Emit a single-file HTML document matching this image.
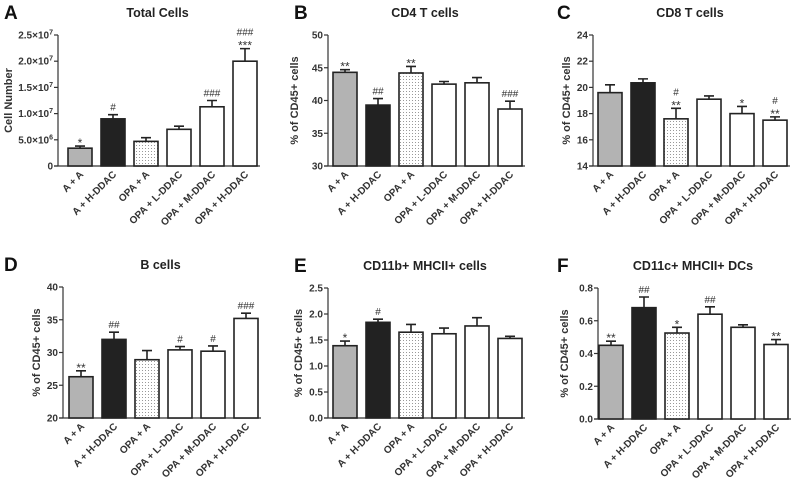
<!DOCTYPE html>
<html><head><meta charset="utf-8"><style>
html,body{margin:0;padding:0;background:#fff;}
svg{display:block;font-family:"Liberation Sans",Arial,sans-serif;}
</style></head><body>
<svg id="fig" width="794" height="485" viewBox="0 0 794 485">
<defs><pattern id="dots" width="3" height="3" patternUnits="userSpaceOnUse"><rect width="3" height="3" fill="#fff"/><rect x="1" y="1" width="1" height="1" fill="#999"/></pattern></defs>
</svg>
<script>
const categories = ["A + A","A + H-DDAC","OPA + A","OPA + L-DDAC","OPA + M-DDAC","OPA + H-DDAC"];
const valuesA = [3.4e6,9.0e6,4.7e6,7.0e6,11.3e6,20.0e6];
const errorsA = [0.4e6,0.8e6,0.7e6,0.6e6,1.2e6,2.4e6];
const annotA = ["*","#","","","###","###|***"];
const ticksA = [0,5e6,1e7,1.5e7,2e7,2.5e7];
const tickLabelsA = ["0","5.0×10^6","1.0×10^7","1.5×10^7","2.0×10^7","2.5×10^7"];
const valuesB = [44.3,39.3,44.2,42.5,42.7,38.7];
const errorsB = [0.4,1.0,1.0,0.4,0.8,1.2];
const annotB = ["**","##","**","","","###"];
const ticksB = [30,35,40,45,50];
const valuesC = [19.6,20.35,17.6,19.1,18.0,17.5];
const errorsC = [0.6,0.3,0.8,0.25,0.55,0.25];
const annotC = ["","","#|**","","*","#|**"];
const ticksC = [14,16,18,20,22,24];
const valuesD = [26.3,32.0,28.9,30.4,30.2,35.2];
const errorsD = [0.9,1.1,1.4,0.5,0.8,0.8];
const annotD = ["**","##","","#","#","###"];
const ticksD = [20,25,30,35,40];
const valuesE = [1.39,1.84,1.65,1.62,1.77,1.53];
const errorsE = [0.09,0.06,0.15,0.11,0.16,0.04];
const annotE = ["*","#","","","",""];
const ticksE = [0,0.5,1,1.5,2,2.5];
const tickLabelsE = ["0.0","0.5","1.0","1.5","2.0","2.5"];
const valuesF = [0.45,0.68,0.525,0.64,0.56,0.455];
const errorsF = [0.025,0.065,0.035,0.045,0.015,0.03];
const annotF = ["**","##","*","##","","**"];
const ticksF = [0,0.2,0.4,0.6,0.8];
const tickLabelsF = ["0.0","0.2","0.4","0.6","0.8"];

const NS="http://www.w3.org/2000/svg";
const svg=document.getElementById('fig');
const fills=["#b3b3b3","#222","url(#dots)","#fff","#fff","#fff"];
function mk(tag,attrs,parent){const e=document.createElementNS(NS,tag);for(const k in attrs)e.setAttribute(k,attrs[k]);(parent||svg).appendChild(e);return e;}

function panel(p){
  const g=mk('g',{});
  
  
  const min=p.ticks[0],max=p.ticks[p.ticks.length-1];
  const y=v=>p.bottom-(v-min)/(max-min)*(p.bottom-p.top);
  const step=33,bw=24;
  const xc=i=>p.bar0+bw/2+i*step;
  const L=mk('text',{x:p.lx,y:p.top-16,'font-size':19,'font-weight':'bold',fill:'#111'},g);L.textContent=p.id;
  
  
  const t=mk('text',{x:(p.axis+xc(5)+bw/2)/2,y:p.top-18,'font-size':12.5,'font-weight':'bold','text-anchor':'middle',fill:'#222'},g);t.textContent=p.title;
  
  
  const yt=mk('text',{x:0,y:0,'font-size':11,'font-weight':'bold','text-anchor':'middle',fill:'#333',transform:`translate(${p.ytx},${(p.top+p.bottom)/2}) rotate(-90)`},g);yt.textContent=p.ylabel;
  
  
  // axes
  const ya=mk('line',{x1:p.axis,x2:p.axis,y1:p.top,y2:p.bottom,stroke:'#333','stroke-width':1.2},g);
  
  
  const xa=mk('line',{x1:p.axis-4,x2:xc(5)+bw/2+3,y1:p.bottom,y2:p.bottom,stroke:'#333','stroke-width':1.2},g);
  
  
  p.ticks.forEach((v,i)=>{
    mk('line',{x1:p.axis-4,x2:p.axis,y1:y(v),y2:y(v),stroke:'#333','stroke-width':1.2},g);
    const lab=(p.labels?p.labels[i]:String(v));
    const tx=mk('text',{x:p.axis-5,y:y(v)+3.5,'font-size':10,'font-weight':'bold','text-anchor':'end',fill:'#333'},g);
    
    
    const parts=lab.split('^');
    tx.textContent=parts[0];
    if(parts[1]){const s=mk('tspan',{dy:-4,'font-size':7},tx);s.textContent=parts[1];}
  });
  p.values.forEach((v,i)=>{
    const x0=xc(i)-bw/2, top=y(v), et=y(v+p.errors[i]);
    const r=mk('rect',{x:x0,y:top,width:bw,height:p.bottom-top,fill:fills[i],stroke:'#222','stroke-width':1.6},g);
    
    
    const e=mk('path',{d:`M${xc(i)},${top}V${et}M${xc(i)-5},${et}H${xc(i)+5}`,stroke:'#222','stroke-width':1.6,fill:'none'},g);
    
    
    const ann=p.annot[i]; if(ann){
      const lines=ann.split('|');
      lines.forEach((s,k)=>{
        const a=mk('text',{x:xc(i),y:et-4-(lines.length-1-k)*9+(s.startsWith('*')?5:0),'font-size':s.startsWith('*')?12:10,'text-anchor':'middle',fill:'#333'},g);
        a.textContent=s;
        
        
      });
    }
    const xl=mk('text',{x:0,y:0,'font-size':10,'font-weight':'bold','text-anchor':'end',fill:'#333',transform:`translate(${xc(i)+4},${p.bottom+9}) rotate(-45)`},g);
    xl.textContent=categories[i];
    
    
  });
}
panel({id:'A',title:'Total Cells',ylabel:'Cell Number',lx:4,axis:58,top:35,bottom:166,bar0:68,ytx:12,ticks:ticksA,labels:tickLabelsA,values:valuesA,errors:errorsA,annot:annotA});
panel({id:'B',title:'CD4 T cells',ylabel:'% of CD45+ cells',lx:294,axis:328,top:35,bottom:166,bar0:333,ytx:298,ticks:ticksB,values:valuesB,errors:errorsB,annot:annotB});
panel({id:'C',title:'CD8 T cells',ylabel:'% of CD45+ cells',lx:557,axis:593,top:35,bottom:166,bar0:598,ytx:570,ticks:ticksC,values:valuesC,errors:errorsC,annot:annotC});
panel({id:'D',title:'B cells',ylabel:'% of CD45+ cells',lx:4,axis:63,top:287,bottom:418,bar0:69,ytx:40,ticks:ticksD,values:valuesD,errors:errorsD,annot:annotD});
panel({id:'E',title:'CD11b+ MHCII+ cells',ylabel:'% of CD45+ cells',lx:294,axis:328,top:288,bottom:418,bar0:333,ytx:302,ticks:ticksE,labels:tickLabelsE,values:valuesE,errors:errorsE,annot:annotE});
panel({id:'F',title:'CD11c+ MHCII+ DCs',ylabel:'% of CD45+ cells',lx:557,axis:598,top:288,bottom:419,bar0:599,ytx:568,ticks:ticksF,labels:tickLabelsF,values:valuesF,errors:errorsF,annot:annotF});
</script>
</body></html>
